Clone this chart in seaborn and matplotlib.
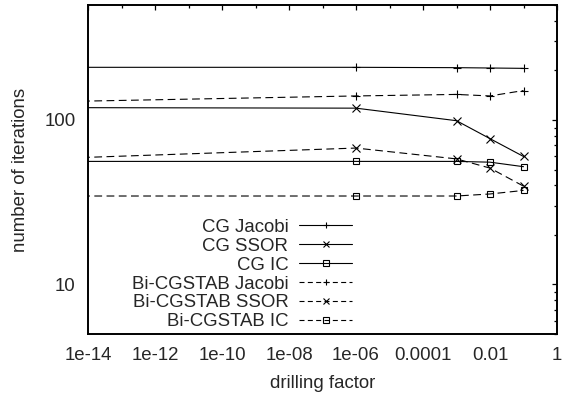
import numpy as np
import pandas as pd
import seaborn as sns
import matplotlib.pyplot as plt
from matplotlib.ticker import FixedLocator, FuncFormatter, NullFormatter, LogLocator
from matplotlib.lines import Line2D

# data (first point lies left of the plotted range)
drilling = [1e-16, 1e-6, 1e-3, 1e-2, 1e-1]
cg_jacobi = [209, 209, 208, 207, 206]
cg_ssor = [119, 118, 99, 77, 60]
cg_ic = [56, 56, 56, 55.4, 52]
bi_jacobi = [128, 140, 143, 140, 151]
bi_ssor = [57.4, 67.5, 58, 51, 39.6]
bi_ic = [34.5, 34.5, 34.5, 35.5, 37.3]

series = [
    ("CG Jacobi", cg_jacobi, "+", "-"),
    ("CG SSOR", cg_ssor, "x", "-"),
    ("CG IC", cg_ic, "s", "-"),
    ("Bi-CGSTAB Jacobi", bi_jacobi, "+", "--"),
    ("Bi-CGSTAB SSOR", bi_ssor, "x", "--"),
    ("Bi-CGSTAB IC", bi_ic, "s", "--"),
]
msizes = {"+": 5.5, "x": 5.2, "s": 4.8}

sns.set_style("white")
plt.rcParams["font.family"] = ["Liberation Sans", "DejaVu Sans"]
plt.rcParams["font.size"] = 13.4

fig = plt.figure(figsize=(5.65, 4.03), dpi=100)
ax = fig.add_axes([88 / 565, 1 - 334 / 403, 469 / 565, 329 / 403])
ax.set_xscale("log")
ax.set_yscale("log")

lw = 0.8
dash = (7, 4)
handles = []
for name, vals, mk, ls in series:
    df = pd.DataFrame({"x": drilling, "y": vals})
    sns.lineplot(data=df, x="x", y="y", ax=ax, color="black", lw=lw,
                 marker=mk, markersize=msizes[mk], markeredgewidth=0.8,
                 markerfacecolor="none", markeredgecolor="black",
                 estimator=None, sort=False, legend=False)
    line = ax.lines[-1]
    if ls == "--":
        line.set_dashes(dash)
    h = Line2D([], [], color="black", lw=lw, marker=mk,
               markersize=msizes[mk] * 0.8, markeredgewidth=0.8,
               markerfacecolor="none")
    if ls == "--":
        h.set_dashes((4.5, 3))
    handles.append(h)

ax.set_xlim(1e-14, 1)
ax.set_ylim(5, 500)

ax.xaxis.set_major_locator(FixedLocator(10.0 ** np.arange(-14, 1, 2)))
ax.xaxis.set_minor_locator(FixedLocator(10.0 ** np.arange(-13, 0, 2)))
ax.xaxis.set_major_formatter(FuncFormatter(lambda v, p: "%g" % v))
ax.xaxis.set_minor_formatter(NullFormatter())
ax.yaxis.set_major_locator(FixedLocator([10, 100]))
ax.yaxis.set_minor_locator(LogLocator(base=10, subs=np.arange(2, 10)))
ax.yaxis.set_major_formatter(FuncFormatter(lambda v, p: "%g" % v))
ax.yaxis.set_minor_formatter(NullFormatter())

ax.tick_params(which="both", direction="in", top=True, right=True, color="black")
ax.tick_params(which="major", length=3.5, width=0.9)
ax.tick_params(which="minor", length=2, width=0.9)
ax.tick_params(axis="x", which="major", pad=9)
ax.tick_params(axis="y", which="major", pad=9)
for s in ax.spines.values():
    s.set_color("black")
    s.set_linewidth(1.4)

ax.set_xlabel("drilling factor", labelpad=8)
ax.set_ylabel("number of iterations", labelpad=11)

ax.legend(handles, [s[0] for s in series], markerfirst=False, frameon=False,
          loc="lower right", bbox_to_anchor=(0.57, 0.0), borderaxespad=0.0,
          borderpad=0.2, labelspacing=0.1, handlelength=2.8, handletextpad=0.6,
          numpoints=1)

fig.savefig("out.png", dpi=100)
